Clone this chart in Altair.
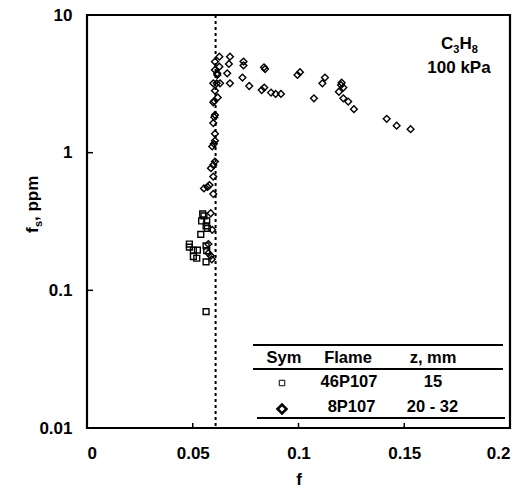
import altair as alt
import pandas as pd

# ---- data ----
sq_f = [0.0547, 0.0553, 0.0542, 0.0566, 0.0563, 0.0569, 0.0538, 0.0484, 0.0484,
        0.0503, 0.0522, 0.0503, 0.0519, 0.0563, 0.0566, 0.0563, 0.0563]
sq_fs = [0.359, 0.347, 0.319, 0.319, 0.294, 0.282, 0.255, 0.217, 0.206,
         0.196, 0.196, 0.176, 0.171, 0.210, 0.194, 0.161, 0.070]

dm_f = [0.0626, 0.0676, 0.0605, 0.0671, 0.0740, 0.0740, 0.0626, 0.0837, 0.0842,
        0.0605, 0.0616, 0.0616, 0.0663, 0.1007, 0.0995, 0.0735, 0.1125, 0.1113,
        0.0597, 0.0613, 0.0629, 0.0676, 0.1204, 0.1201, 0.1212, 0.1191, 0.0767,
        0.0838, 0.0826, 0.0605, 0.0870, 0.0892, 0.0917, 0.1073, 0.1212, 0.1235,
        0.1262, 0.0618, 0.0602, 0.0597, 0.1417, 0.1464, 0.1530,
        0.0605, 0.0602, 0.0597, 0.0605, 0.0605, 0.0600, 0.0592, 0.0605, 0.0597,
        0.0586, 0.0597, 0.0553, 0.0570, 0.0579, 0.0597, 0.0585, 0.0592, 0.0574,
        0.0574, 0.0585, 0.0590]
dm_fs = [4.98, 4.98, 4.58, 4.41, 4.59, 4.30, 4.21, 4.17, 4.05,
         3.99, 3.77, 3.67, 3.77, 3.84, 3.67, 3.51, 3.51, 3.19,
         3.19, 3.19, 3.19, 3.19, 3.22, 3.10, 2.97, 2.77, 3.05,
         2.97, 2.85, 2.82, 2.73, 2.67, 2.67, 2.48, 2.48, 2.35,
         2.07, 2.52, 2.37, 2.32, 1.76, 1.57, 1.48,
         1.88, 1.81, 1.64, 1.37, 1.22, 1.16, 1.11, 0.861, 0.814,
         0.771, 0.670, 0.550, 0.564, 0.582, 0.501, 0.363, 0.275, 0.217,
         0.186, 0.178, 0.168]

flames = ["46P107", "8P107"]
z_mm = ["15", "20 - 32"]
header = ["Sym", "Flame", "z, mm"]
x_ticks = [0, 0.05, 0.1, 0.15, 0.2]
x_inner_ticks = [0.05, 0.1, 0.15]
y_ticks = [0.01, 0.1, 1, 10]
y_inner_ticks = [0.1, 1]
f_stoich = [0.0608]

# ---- layout ----
W, H = 423, 413
FONT = "Liberation Sans"
FS = 17

df = pd.concat([
    pd.DataFrame({"f": sq_f, "fs": sq_fs, "flame": flames[0]}),
    pd.DataFrame({"f": dm_f, "fs": dm_fs, "flame": flames[1]}),
], ignore_index=True)

xs = alt.Scale(domain=[0, 0.2], nice=False, zero=False)
ys = alt.Scale(type="log", domain=[0.01, 10], nice=False)
x_axis = alt.Axis(values=x_ticks, format="~g", title="f", ticks=False, domain=False,
                  grid=False, labelPadding=17, titlePadding=10)
y_axis = alt.Axis(values=y_ticks, format="~g", title=None, ticks=False, domain=False,
                  grid=False, labelPadding=15)

points = alt.Chart(df).mark_point(filled=False, color="black", strokeWidth=1.4, opacity=1).encode(
    x=alt.X("f:Q", scale=xs, axis=x_axis),
    y=alt.Y("fs:Q", scale=ys, axis=y_axis),
    shape=alt.Shape("flame:N", scale=alt.Scale(domain=flames, range=["square", "diamond"]), legend=None),
    size=alt.Size("flame:N", scale=alt.Scale(domain=flames, range=[34, 46]), legend=None),
)

stoich = alt.Chart(pd.DataFrame({"f": f_stoich})).mark_rule(
    color="black", strokeWidth=2, strokeDash=[3, 3]).encode(
    x=alt.X("f:Q", scale=xs, axis=x_axis), y=alt.value(0), y2=alt.value(H))

xt = alt.Chart(pd.DataFrame({"f": x_inner_ticks})).mark_rule(color="black", strokeWidth=1.5).encode(
    x=alt.X("f:Q", scale=xs, axis=x_axis), y=alt.value(H), y2=alt.value(H - 5))
yt = alt.Chart(pd.DataFrame({"fs": y_inner_ticks})).mark_rule(color="black", strokeWidth=1.5).encode(
    y=alt.Y("fs:Q", scale=ys, axis=y_axis), x=alt.value(0), x2=alt.value(6))

one = pd.DataFrame({"i": [0]})


def txt(s, x, y, size=FS, align="center", baseline="middle", weight="bold", angle=0):
    return alt.Chart(one).mark_text(text=s, fontSize=size, font=FONT, fontWeight=weight,
                                    align=align, baseline=baseline, angle=angle,
                                    color="black").encode(x=alt.value(x), y=alt.value(y))


def hrule(x1, x2, y, w=2):
    return alt.Chart(one).mark_rule(color="black", strokeWidth=w).encode(
        x=alt.value(x1), x2=alt.value(x2), y=alt.value(y))


# y axis title f_s, ppm (rotated, with subscript)
ytitle = [
    txt("f", -49, 218, align="left", baseline="alphabetic", angle=270),
    txt("s", -45, 212, size=11, align="left", baseline="alphabetic", angle=270),
    txt(", ppm", -49, 206, align="left", baseline="alphabetic", angle=270),
]

# C3H8 / 100 kPa annotation
anno = [
    txt("C", 354, 34, align="left", baseline="alphabetic"),
    txt("3", 366.3, 38, size=11, align="left", baseline="alphabetic"),
    txt("H", 372.5, 34, align="left", baseline="alphabetic"),
    txt("8", 384.8, 38, size=11, align="left", baseline="alphabetic"),
    txt("100 kPa", 372, 53),
]

# legend table
table = [
    hrule(166, 416, 330),
    hrule(166, 416, 354),
    hrule(170, 418, 403),
    txt(header[0], 197, 343, size=16.5),
    txt(header[1], 261, 343, size=16.5),
    txt(header[2], 346, 343, size=16.5),
    txt(flames[0], 262, 367, size=16.5),
    txt(z_mm[0], 346, 367, size=16.5),
    txt(flames[1], 264.5, 392, size=16.5),
    txt(z_mm[1], 345.5, 392, size=16.5),
    alt.Chart(one).mark_point(shape="square", size=30, filled=False, color="black",
                              strokeWidth=1, opacity=1).encode(x=alt.value(195), y=alt.value(368)),
    alt.Chart(one).mark_point(shape="diamond", size=80, filled=False, color="black",
                              strokeWidth=2.6, opacity=1).encode(x=alt.value(195), y=alt.value(394)),
]

chart = alt.layer(points, stoich, xt, yt, *ytitle, *anno, *table).properties(
    width=W, height=H,
    autosize=alt.AutoSizeParams(type="none"),
    padding={"left": 87, "top": 15, "right": 21, "bottom": 61},
).configure_view(stroke="black", strokeWidth=2.2).configure_axis(
    labelFont=FONT, labelFontSize=FS, labelFontWeight="bold", labelColor="black",
    titleFont=FONT, titleFontSize=FS, titleFontWeight="bold", titleColor="black",
)

chart.save("out.html", embed_options={"renderer": "svg", "actions": False})
